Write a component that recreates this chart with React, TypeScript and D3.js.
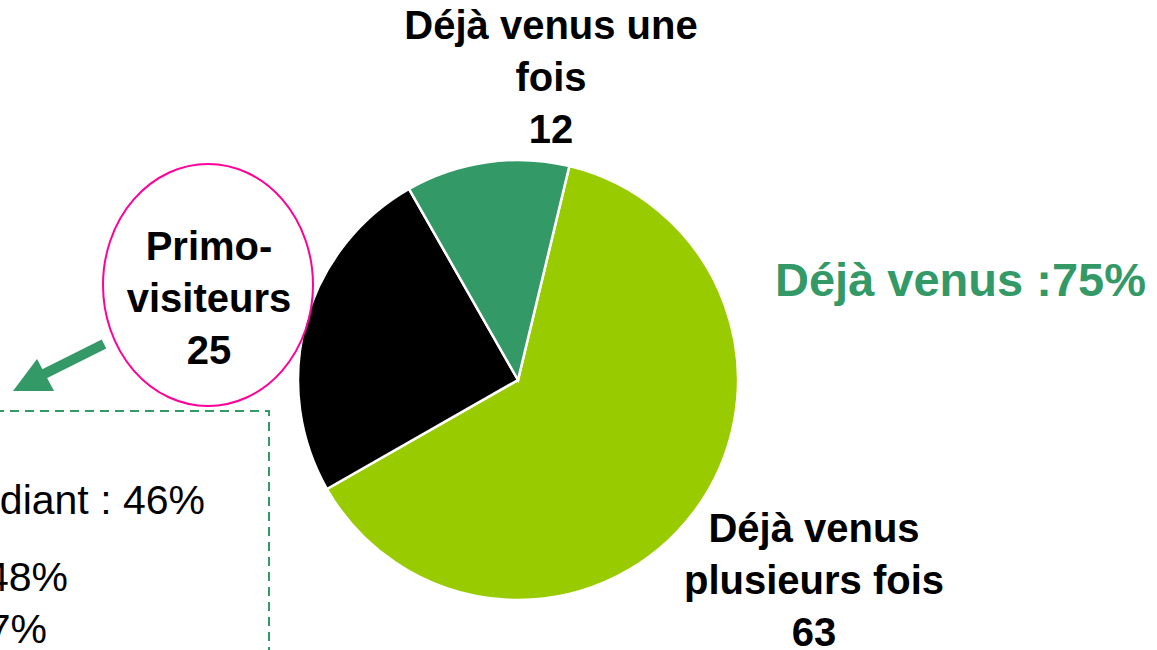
import React, { useEffect, useRef } from 'react'
import * as d3 from 'd3'

// visitor split (count out of 100 respondents)
const categories = ['Déjà venus plusieurs fois', 'Primo-visiteurs', 'Déjà venus une fois']
const values = [63, 25, 12]
const colors = ['#99CC00', '#000000', '#339966']
const labelLines = [
  ['Déjà venus', 'plusieurs fois', '63'],
  ['Primo-', 'visiteurs', '25'],
  ['Déjà venus une', 'fois', '12']
]
const labelPos = [
  [814, 542],
  [209, 260],
  [551, 39]
]
const summaryText = 'Déjà venus :75%'
const boxLines = [
  { text: 'Étudiant : 46%', x: 205, y: 514 },
  { text: '48%', x: 68, y: 591 },
  { text: '7%', x: 47, y: 643 }
]

const WIDTH = 1157
const HEIGHT = 650
const FONT = 'Liberation Sans, Arial, sans-serif'
const GREEN = '#339966'

const App = () => {
  const ref = useRef<SVGSVGElement>(null)

  useEffect(() => {
    const svg = d3.select(ref.current)
    svg.selectAll('*').remove()

    const cx = 518
    const cy = 380
    const r = 220
    const start = (13.5 * Math.PI) / 180

    const pie = d3.pie<number>().sort(null).startAngle(start).endAngle(start + 2 * Math.PI)
    const arc = d3.arc<d3.PieArcDatum<number>>().innerRadius(0).outerRadius(r)

    const g = svg.append('g').attr('transform', `translate(${cx},${cy})`)
    g.selectAll('path')
      .data(pie(values))
      .enter()
      .append('path')
      .attr('d', arc)
      .attr('fill', (d, i) => colors[i])
      .attr('stroke', '#fff')
      .attr('stroke-width', 2.5)

    // slice labels
    labelLines.forEach((lines, i) => {
      const t = svg.append('text')
        .attr('x', labelPos[i][0])
        .attr('y', labelPos[i][1])
        .attr('text-anchor', 'middle')
        .attr('font-family', FONT)
        .attr('font-weight', 'bold')
        .attr('font-size', 40)
        .attr('fill', '#000')
        .attr('data-category', categories[i])
      lines.forEach((line, j) => {
        t.append('tspan')
          .attr('x', labelPos[i][0])
          .attr('dy', j === 0 ? 0 : 52)
          .text(line)
      })
    })

    // pink ellipse around primo-visiteurs
    svg.append('ellipse')
      .attr('cx', 208)
      .attr('cy', 285)
      .attr('rx', 105)
      .attr('ry', 121)
      .attr('fill', 'none')
      .attr('stroke', '#FF0099')
      .attr('stroke-width', 2)

    svg.append('text')
      .attr('x', 775)
      .attr('y', 296)
      .attr('font-family', FONT)
      .attr('font-weight', 'bold')
      .attr('font-size', 47)
      .attr('fill', GREEN)
      .text(summaryText)

    // arrow
    svg.append('line')
      .attr('x1', 104)
      .attr('y1', 344)
      .attr('x2', 42)
      .attr('y2', 375)
      .attr('stroke', GREEN)
      .attr('stroke-width', 10)
    svg.append('path')
      .attr('d', 'M13,391 L37,359 L54,391 Z')
      .attr('fill', GREEN)

    // dashed box
    svg.append('rect')
      .attr('x', -20)
      .attr('y', 411)
      .attr('width', 289)
      .attr('height', 300)
      .attr('fill', 'none')
      .attr('stroke', GREEN)
      .attr('stroke-width', 2)
      .attr('stroke-dasharray', '9,6')

    boxLines.forEach(b => {
      svg.append('text')
        .attr('x', b.x)
        .attr('y', b.y)
        .attr('text-anchor', 'end')
        .attr('font-family', FONT)
        .attr('font-size', 41)
        .attr('fill', '#000')
        .text(b.text)
    })
  }, [])

  return (
    <svg
      ref={ref}
      width={WIDTH}
      height={HEIGHT}
      style={{ position: 'fixed', left: 0, top: 0, background: '#fff' }}
    />
  )
}

export default App
